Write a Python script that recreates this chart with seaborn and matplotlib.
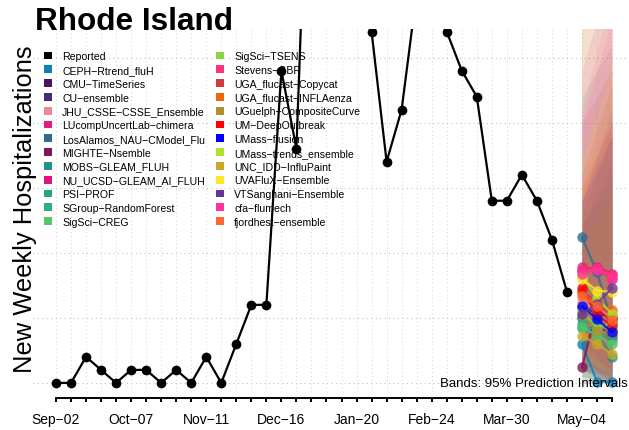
import numpy as np
import pandas as pd
import matplotlib
matplotlib.use("Agg")
import matplotlib.pyplot as plt
import matplotlib.dates as mdates
from matplotlib.patches import Patch
import seaborn as sns

# weekly dates (Saturdays)
week_dates = pd.date_range("2023-09-02", "2024-05-18", freq="7D")

# reported weekly hospitalizations, Sep-02 .. Apr-27
reported = [0, 0, 2, 1, 0, 1, 1, 0, 1, 0, 2, 0, 3, 6, 6, 24, 18, 50, 62, 58,
            45, 27, 17, 21, 30, 31, 27, 24, 22, 14, 14, 16, 14, 11, 7]

# forecast models and colours
models = ["CEPH-Rtrend_fluH", "CMU-TimeSeries", "CU-ensemble", "JHU_CSSE-CSSE_Ensemble",
          "LUcompUncertLab-chimera", "LosAlamos_NAU-CModel_Flu", "MIGHTE-Nsemble",
          "MOBS-GLEAM_FLUH", "NU_UCSD-GLEAM_AI_FLUH", "PSI-PROF", "SGroup-RandomForest",
          "SigSci-CREG", "SigSci-TSENS", "Stevens-GBR", "UGA_flucast-Copycat",
          "UGA_flucast-INFLAenza", "UGuelph-CompositeCurve", "UM-DeepOutbreak",
          "UMass-flusion", "UMass-trends_ensemble", "UNC_IDD-InfluPaint",
          "UVAFluX-Ensemble", "VTSanghani-Ensemble", "cfa-flumech", "fjordhest-ensemble"]
model_colors = ["#0f7fb8", "#4a1466", "#48287f", "#e88a94", "#e0207f", "#2f6d8f",
                "#7d1558", "#21918c", "#e2117f", "#22a384", "#2cb17e", "#55c565",
                "#86d549", "#ff3377", "#d03b3b", "#e8680a", "#ad8f32", "#ff0000",
                "#0000ff", "#b5e02b", "#c9a825", "#fde725", "#6a3398", "#ff3399",
                "#ff6633"]

# medians for May-04, May-11, May-18
fc_wk1 = [3.0, 5.8, 5.0, 6.2, 8.9, 11.2, 1.2, 4.2, 8.6, 4.5, 5.0, 4.3, 5.5,
          8.7, 7.1, 6.9, 5.2, 7.3, 5.9, 8.2, 3.6, 8.0, 5.3, 8.4, 6.7]
fc_wk2 = [0.1, 5.4, 4.4, 5.6, 8.7, 8.5, 5.7, 3.8, 8.9, 4.0, 4.6, 3.6, 4.2,
          8.8, 6.2, 6.0, 4.0, 5.2, 4.9, 6.5, 3.0, 7.1, 6.1, 8.7, 5.9]
fc_wk3 = [0.1, 5.0, 3.6, 5.2, 8.0, 4.6, 4.8, 2.0, 8.4, 3.3, 4.1, 3.0, 4.6,
          8.3, 5.1, 5.6, 3.8, 4.4, 3.9, 5.3, 2.2, 7.0, 7.3, 8.1, 4.8]

# 95% prediction interval bounds (May-04 and May-18)
lo_wk1 = [0.0, 1.5, 1.0, 2.0, 3.0, 4.0, 0.0, 0.5, 2.5, 0.5, 1.0, 0.5, 1.5,
          3.0, 1.5, 1.0, 0.5, 2.0, 1.0, 2.0, 0.0, 2.0, 1.0, 2.5, 1.5]
lo_wk3 = [0.0, 0.5, 0.0, 0.5, 1.0, 0.0, 0.0, 0.0, 1.0, 0.0, 0.0, 0.0, 0.5,
          1.0, 0.0, 0.0, 0.0, 0.0, 0.0, 0.5, 0.0, 0.5, 0.5, 1.0, 0.0]
hi_wk1 = [11, 14, 12, 30, 24, 22, 13, 11, 20, 12, 13, 12, 15,
          21, 15, 27, 29, 16, 14, 18, 11, 17, 14, 20, 15]
hi_wk3 = [14, 20, 17, 38, 32, 26, 19, 15, 24, 16, 19, 16, 22,
          30, 20, 36, 40, 23, 19, 25, 14, 24, 21, 28, 20]

rep_df = pd.DataFrame({"date": week_dates[:len(reported)], "value": reported})
fc_dates = week_dates[-3:]
fc_df = pd.DataFrame({
    "date": np.tile(fc_dates, len(models)),
    "model": np.repeat(models, 3),
    "value": np.column_stack([fc_wk1, fc_wk2, fc_wk3]).ravel(),
})
palette = dict(zip(models, model_colors))

sns.set_style("white")
plt.rcParams["font.family"] = ["Liberation Sans", "DejaVu Sans"]
plt.rcParams["text.color"] = "black"
plt.rcParams["axes.labelcolor"] = "black"
plt.rcParams["xtick.color"] = "black"

fig = plt.figure(figsize=(6.29, 4.31), dpi=100)
ax = fig.add_axes([33 / 629, 38 / 431, 596 / 629, 363 / 431])

# grid
for d in week_dates:
    ax.axvline(d, color="#d4d4d4", lw=0.7, ls=(0, (1, 3)), zorder=0)
for v in [0, 5, 10, 15, 20, 25]:
    ax.axhline(v, color="#c0c0c0", lw=0.8, ls=(0, (1, 3)), zorder=0)

# prediction bands
for i, m in enumerate(models):
    lo = [lo_wk1[i], (lo_wk1[i] + lo_wk3[i]) / 2, lo_wk3[i]]
    hi = [hi_wk1[i], (hi_wk1[i] + hi_wk3[i]) / 2, hi_wk3[i]]
    ax.fill_between(fc_dates, lo, hi, color=model_colors[i], alpha=0.09, lw=0, zorder=1)

sns.lineplot(data=rep_df, x="date", y="value", color="black", marker="o",
             markersize=7, linewidth=1.6, mec="black", mew=0, ax=ax, zorder=3)
sns.lineplot(data=fc_df, x="date", y="value", hue="model", palette=palette,
             marker="o", markersize=7.5, linewidth=1.6, mew=0, alpha=0.8,
             legend=False, ax=ax, zorder=4)

ax.set_xlim(week_dates[0] - pd.Timedelta(days=10.7), week_dates[-1] + pd.Timedelta(days=7.9))
ax.set_ylim(-0.7, 27.2)

labels = [d.strftime("%b\u2212%d") if i % 5 == 0 else "" for i, d in enumerate(week_dates)]
ax.set_xticks(week_dates)
ax.set_xticklabels(labels, fontsize=13.5)
ax.set_yticks([])
ax.tick_params(axis="x", bottom=True, length=3.2, width=1.4, pad=7, color="black")
for s in ["left", "right", "top"]:
    ax.spines[s].set_visible(False)
ax.spines["bottom"].set_position(("outward", 4.5))
ax.spines["bottom"].set_bounds(mdates.date2num(week_dates[0]), mdates.date2num(week_dates[-1]))
ax.spines["bottom"].set_linewidth(1.4)
ax.spines["bottom"].set_color("black")

ax.set_xlabel("")
ax.set_ylabel("New Weekly Hospitalizations", fontsize=18.4)
ax.yaxis.set_label_coords(0.006, 0.507)

handles = [Patch(facecolor="black", edgecolor="none")] + \
          [Patch(facecolor=c, edgecolor="none") for c in model_colors]
leg_labels = ["Reported"] + [m.replace("-", "\u2212") for m in models]
ax.legend(handles, leg_labels, loc="upper left", bbox_to_anchor=(0.018, 0.939),
          ncol=2, frameon=False, fontsize=7.6, handlelength=0.75, handleheight=0.75,
          handletextpad=1.0, columnspacing=1.0, labelspacing=0.36,
          borderaxespad=0, borderpad=0)

ax.text(0.998, 0.0165, "Bands: 95% Prediction Intervals", transform=ax.transAxes,
        ha="right", va="baseline", fontsize=9.5, zorder=6)

fig.text(35 / 629, 1 - 30 / 431, "Rhode Island", fontsize=22.7, weight="bold",
         ha="left", va="baseline")

fig.savefig("out.png", dpi=100)
